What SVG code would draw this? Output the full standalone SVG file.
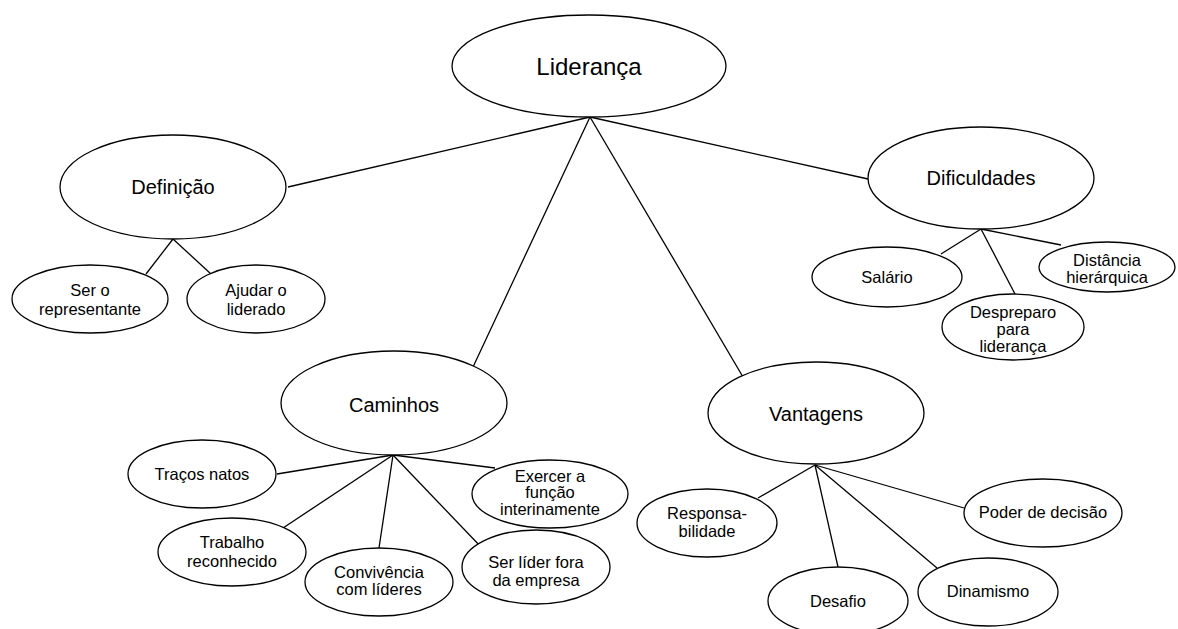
<svg xmlns="http://www.w3.org/2000/svg" width="1178" height="629" viewBox="0 0 1178 629">
  <style>
    .node ellipse { fill: #ffffff; stroke: #000000; stroke-width: 1.3; }
    .node text { font-family: "Liberation Sans", Arial, sans-serif; fill: #000000; text-anchor: middle; }
    .big text { font-size: 20px; }
    .root text { font-size: 24px; }
    .small text { font-size: 16.5px; }
    #connectors line { stroke: #000000; stroke-width: 1.3; }
  </style>
  <rect width="1178" height="629" fill="#ffffff"/>

  <g id="connectors">
    <!-- root to main topics -->
    <line x1="590" y1="117" x2="288" y2="187"/>
    <line x1="590" y1="117" x2="473" y2="367"/>
    <line x1="590" y1="117" x2="743" y2="377"/>
    <line x1="590" y1="117" x2="868" y2="179"/>
    <!-- Definição -->
    <line x1="173" y1="239" x2="146" y2="274"/>
    <line x1="173" y1="239" x2="211" y2="274"/>
    <!-- Dificuldades -->
    <line x1="981" y1="229" x2="941" y2="254"/>
    <line x1="981" y1="229" x2="1015" y2="294"/>
    <line x1="981" y1="229" x2="1061" y2="245"/>
    <!-- Caminhos -->
    <line x1="393" y1="455" x2="277" y2="474"/>
    <line x1="393" y1="455" x2="283" y2="528"/>
    <line x1="393" y1="455" x2="379" y2="548"/>
    <line x1="393" y1="455" x2="482" y2="548"/>
    <line x1="393" y1="455" x2="495" y2="468"/>
    <!-- Vantagens -->
    <line x1="815" y1="465" x2="758" y2="498"/>
    <line x1="815" y1="465" x2="838" y2="567"/>
    <line x1="815" y1="465" x2="937" y2="568"/>
    <line x1="815" y1="465" x2="964" y2="508"/>
  </g>

  <g id="lideranca" class="node root">
    <ellipse cx="589" cy="66" rx="137" ry="51"/>
    <text x="589" y="75">Liderança</text>
  </g>

  <g id="definicao" class="node big">
    <ellipse cx="173" cy="187" rx="113" ry="52"/>
    <text x="173" y="194">Definição</text>
  </g>
  <g id="ser-representante" class="node small">
    <ellipse cx="90" cy="299" rx="78" ry="34"/>
    <text x="90" y="296">Ser o</text>
    <text x="90" y="315">representante</text>
  </g>
  <g id="ajudar-liderado" class="node small">
    <ellipse cx="256" cy="299" rx="69" ry="34"/>
    <text x="256" y="296">Ajudar o</text>
    <text x="256" y="315">liderado</text>
  </g>

  <g id="dificuldades" class="node big">
    <ellipse cx="981" cy="178" rx="113" ry="51"/>
    <text x="981" y="185">Dificuldades</text>
  </g>
  <g id="salario" class="node small">
    <ellipse cx="887" cy="277" rx="75" ry="30"/>
    <text x="887" y="283">Salário</text>
  </g>
  <g id="distancia" class="node small">
    <ellipse cx="1107" cy="267" rx="68" ry="25"/>
    <text x="1107" y="266">Distância</text>
    <text x="1107" y="283">hierárquica</text>
  </g>
  <g id="despreparo" class="node small">
    <ellipse cx="1013" cy="327" rx="71" ry="33"/>
    <text x="1013" y="318">Despreparo</text>
    <text x="1013" y="335">para</text>
    <text x="1013" y="352">liderança</text>
  </g>

  <g id="caminhos" class="node big">
    <ellipse cx="394" cy="403" rx="113" ry="52"/>
    <text x="394" y="412">Caminhos</text>
  </g>
  <g id="tracos-natos" class="node small">
    <ellipse cx="202" cy="474" rx="74" ry="34"/>
    <text x="202" y="480">Traços natos</text>
  </g>
  <g id="exercer-funcao" class="node small">
    <ellipse cx="550" cy="494" rx="78" ry="34"/>
    <text x="550" y="482">Exercer a</text>
    <text x="550" y="498">função</text>
    <text x="550" y="515">interinamente</text>
  </g>
  <g id="trabalho-reconhecido" class="node small">
    <ellipse cx="232" cy="552" rx="74" ry="34"/>
    <text x="232" y="548">Trabalho</text>
    <text x="232" y="567">reconhecido</text>
  </g>
  <g id="convivencia" class="node small">
    <ellipse cx="379" cy="582" rx="74" ry="34"/>
    <text x="379" y="578">Convivência</text>
    <text x="379" y="595">com líderes</text>
  </g>
  <g id="lider-fora" class="node small">
    <ellipse cx="536" cy="567" rx="74" ry="37"/>
    <text x="536" y="568">Ser líder fora</text>
    <text x="536" y="586">da empresa</text>
  </g>

  <g id="vantagens" class="node big">
    <ellipse cx="816" cy="413" rx="108" ry="51"/>
    <text x="816" y="421">Vantagens</text>
  </g>
  <g id="responsabilidade" class="node small">
    <ellipse cx="707" cy="523" rx="70" ry="34"/>
    <text x="707" y="519">Responsa-</text>
    <text x="707" y="537">bilidade</text>
  </g>
  <g id="poder-decisao" class="node small">
    <ellipse cx="1043" cy="513" rx="79" ry="34"/>
    <text x="1043" y="518">Poder de decisão</text>
  </g>
  <g id="desafio" class="node small">
    <ellipse cx="838" cy="601" rx="70" ry="34"/>
    <text x="838" y="607">Desafio</text>
  </g>
  <g id="dinamismo" class="node small">
    <ellipse cx="988" cy="592" rx="70" ry="34"/>
    <text x="988" y="597">Dinamismo</text>
  </g>
</svg>
